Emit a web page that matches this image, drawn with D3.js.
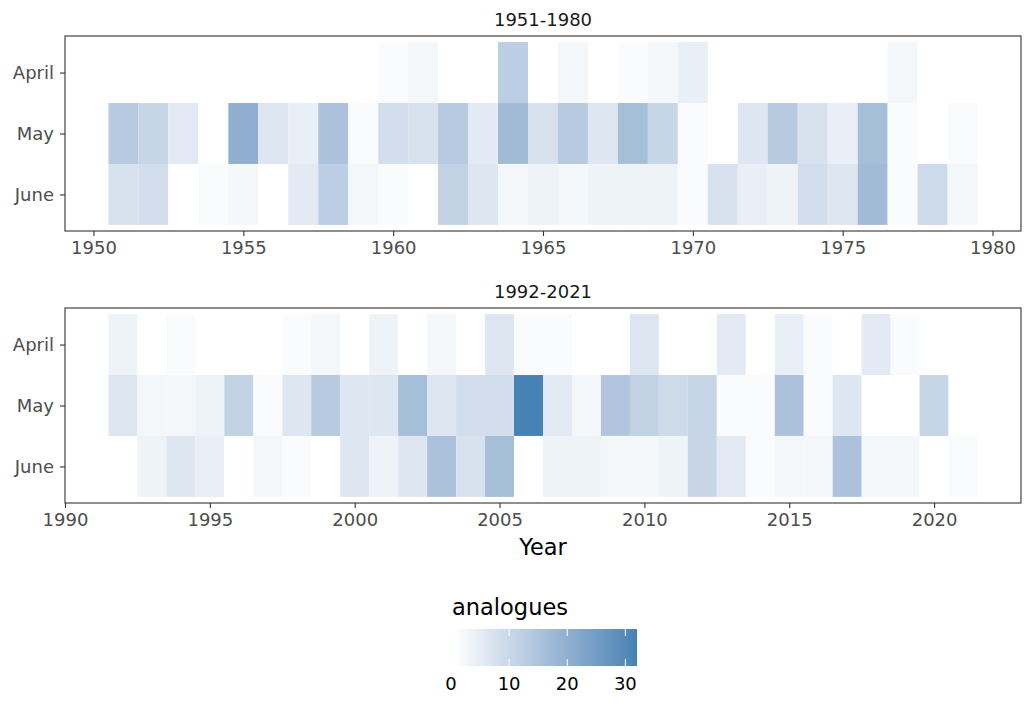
<!DOCTYPE html>
<html>
<head>
<meta charset="utf-8">
<script src="https://cdn.jsdelivr.net/npm/d3@7"></script>
<style>
  body { margin: 0; background: #fff; }
  text { font-family: "DejaVu Sans", sans-serif; }
</style>
</head>
<body>
<svg id="chart" width="1034" height="703"></svg>
<script>
// Datos: número de análogos por mes y año
const months = ['April', 'May', 'June'];

const years1 = [1951, 1952, 1953, 1954, 1955, 1956, 1957, 1958, 1959, 1960,
  1961, 1962, 1963, 1964, 1965, 1966, 1967, 1968, 1969, 1970,
  1971, 1972, 1973, 1974, 1975, 1976, 1977, 1978, 1979];
const april1 = [0, 0, 0, 0, 0, 0, 0, 0, 0, 1, 2, 0, 0, 12, 0, 2, 0, 1, 2, 4, 0, 0, 0, 0, 0, 0, 2, 0, 0];
const may1 = [13, 10, 5, 0, 20, 6, 4, 15, 1, 8, 7, 13, 5, 17, 7, 13, 6, 16, 10, 1, 0, 6, 13, 7, 4, 16, 1, 0, 1];
const june1 = [7, 8, 0, 1, 2, 0, 5, 12, 2, 1, 0, 11, 6, 2, 3, 2, 3, 3, 3, 1, 7, 4, 3, 8, 6, 17, 1, 9, 2];
const ticks1 = [1950, 1955, 1960, 1965, 1970, 1975, 1980];

const years2 = [1992, 1993, 1994, 1995, 1996, 1997, 1998, 1999, 2000, 2001,
  2002, 2003, 2004, 2005, 2006, 2007, 2008, 2009, 2010, 2011,
  2012, 2013, 2014, 2015, 2016, 2017, 2018, 2019, 2020, 2021];
const april2 = [3, 0, 1, 0, 0, 0, 1, 2, 0, 3, 0, 2, 0, 6, 1, 1, 0, 0, 6, 0, 0, 5, 0, 4, 1, 0, 5, 1, 0, 0];
const may2 = [6, 2, 2, 3, 11, 1, 6, 13, 6, 6, 16, 6, 8, 8, 32, 5, 2, 14, 11, 9, 10, 1, 1, 15, 1, 6, 0, 0, 10, 0];
const june2 = [0, 3, 6, 4, 0, 2, 1, 0, 6, 3, 6, 15, 7, 16, 0, 3, 3, 2, 2, 3, 10, 5, 1, 2, 2, 15, 2, 2, 0, 1];
const ticks2 = [1990, 1995, 2000, 2005, 2010, 2015, 2020];

const legendTicks = [0, 10, 20, 30];
const valueMax = 32;

const panels = [
  { title: '1951-1980', years: years1, rows: [april1, may1, june1], ticks: ticks1, top: 36 },
  { title: '1992-2021', years: years2, rows: [april2, may2, june2], ticks: ticks2, top: 308 }
];

// Dimensiones
const svg = d3.select('#chart');
const LEFT = 65, RIGHT = 1021, PANEL_H = 195;

// Escala de color blanco -> steelblue (interpolación Lab, como ggplot)
const color = d3.scaleLinear()
  .domain([0, valueMax])
  .range(['white', 'steelblue'])
  .interpolate(d3.interpolateLab);

panels.forEach(p => {
  const lo = d3.min(p.years) - 0.5, hi = d3.max(p.years) + 0.5;
  const pad = (hi - lo) * 0.05;
  const x = d3.scaleLinear().domain([lo - pad, hi + pad]).range([LEFT, RIGHT]);
  const y = d3.scaleLinear().domain([0.4, 3.6]).range([p.top, p.top + PANEL_H]);

  const cells = [];
  p.rows.forEach((row, i) => row.forEach((v, j) => cells.push({ month: i, year: p.years[j], value: v })));

  const g = svg.append('g');

  g.selectAll('rect.tile')
    .data(cells)
    .enter()
    .append('rect')
    .attr('class', 'tile')
    .attr('x', d => x(d.year - 0.5))
    .attr('width', d => x(d.year + 0.5) - x(d.year - 0.5))
    .attr('y', d => y(d.month + 0.5))
    .attr('height', d => y(d.month + 1.5) - y(d.month + 0.5))
    .attr('fill', d => color(d.value));

  // Borde del panel
  g.append('rect')
    .attr('x', LEFT)
    .attr('y', p.top)
    .attr('width', RIGHT - LEFT)
    .attr('height', PANEL_H)
    .attr('fill', 'none')
    .attr('stroke', '#333')
    .attr('stroke-width', 1.1);

  // Eje X
  const xAxis = g.append('g')
    .attr('transform', `translate(0,${p.top + PANEL_H})`)
    .call(d3.axisBottom(x).tickValues(p.ticks).tickFormat(d3.format('d')).tickSize(5).tickPadding(5));

  // Eje Y
  const yScaleBand = d3.scaleOrdinal().domain(months).range([1, 2, 3].map(y));
  const yAxis = g.append('g')
    .attr('transform', `translate(${LEFT},0)`)
    .call(d3.axisLeft(yScaleBand).tickSize(5).tickPadding(6));

  [xAxis, yAxis].forEach(a => {
    a.select('.domain').remove();
    a.selectAll('line').attr('stroke', '#333').attr('stroke-width', 1.1);
    a.selectAll('text')
      .attr('fill', '#4D4D4D')
      .style('font-size', '18px')
      .style('font-family', '"DejaVu Sans", sans-serif');
  });

  // Título del panel
  g.append('text')
    .attr('x', (LEFT + RIGHT) / 2)
    .attr('y', p.top - 10)
    .attr('text-anchor', 'middle')
    .attr('fill', '#1A1A1A')
    .style('font-size', '18px')
    .text(p.title);
});

// Título del eje X
svg.append('text')
  .attr('x', (LEFT + RIGHT) / 2)
  .attr('y', 555)
  .attr('text-anchor', 'middle')
  .style('font-size', '22.5px')
  .text('Year');

// Leyenda
const BAR_X0 = 451, BAR_X1 = 637, BAR_Y = 629, BAR_H = 37;
const lx = d3.scaleLinear().domain([0, valueMax]).range([BAR_X0, BAR_X1]);

svg.append('text')
  .attr('x', 452)
  .attr('y', 615)
  .style('font-size', '22.5px')
  .text('analogues');

const grad = svg.append('defs').append('linearGradient')
  .attr('id', 'grad');
grad.selectAll('stop')
  .data(d3.range(0, 1.0001, 0.05))
  .enter()
  .append('stop')
  .attr('offset', d => d)
  .attr('stop-color', d => color(d * valueMax));

svg.append('rect')
  .attr('x', lx(0.5))
  .attr('y', BAR_Y)
  .attr('width', lx(valueMax) - lx(0.5))
  .attr('height', BAR_H)
  .attr('fill', 'url(#grad)');

const lt = svg.selectAll('g.ltick')
  .data(legendTicks)
  .enter()
  .append('g')
  .attr('transform', d => `translate(${lx(d)},0)`);

lt.filter(d => d > 0).append('line')
  .attr('y1', BAR_Y).attr('y2', BAR_Y + 7)
  .attr('stroke', 'white').attr('stroke-width', 1);
lt.filter(d => d > 0).append('line')
  .attr('y1', BAR_Y + BAR_H - 7).attr('y2', BAR_Y + BAR_H)
  .attr('stroke', 'white').attr('stroke-width', 1);
lt.append('text')
  .attr('y', 690)
  .attr('text-anchor', 'middle')
  .style('font-size', '18px')
  .text(d => d);
</script>
</body>
</html>
